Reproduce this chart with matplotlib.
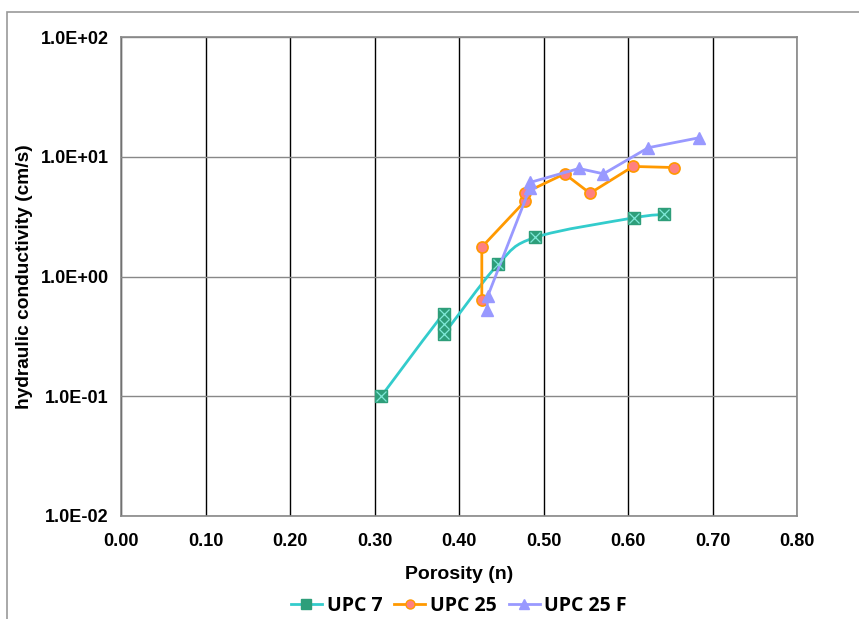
import numpy as np
import matplotlib.pyplot as plt
from matplotlib.path import Path
from matplotlib.patches import PathPatch, Rectangle

# UPC 7
upc7_n = [0.308, 0.382, 0.382, 0.382, 0.446, 0.490, 0.607, 0.643]
upc7_k = [0.10, 0.49, 0.405, 0.334, 1.26, 2.12, 3.09, 3.30]
# UPC 25
upc25_n = [0.427, 0.427, 0.478, 0.478, 0.525, 0.555, 0.606, 0.654]
upc25_k = [0.64, 1.76, 4.25, 5.0, 7.2, 4.96, 8.3, 8.13]
# UPC 25 F
upc25f_n = [0.433, 0.434, 0.484, 0.484, 0.542, 0.571, 0.624, 0.684]
upc25f_k = [0.53, 0.685, 5.5, 6.1, 7.98, 7.2, 11.9, 14.4]

xticks = [0.0, 0.1, 0.2, 0.3, 0.4, 0.5, 0.6, 0.7, 0.8]
yticks = [0.01, 0.1, 1, 10, 100]
ylabels = ['1.0E-02', '1.0E-01', '1.0E+00', '1.0E+01', '1.0E+02']


def smooth_path(xs, ys, tension=1/6):
    # bezier through points, built in (x, log y) space like Excel's smoothed line
    px = np.array(xs, float)
    py = np.log10(np.array(ys, float))
    verts = [(px[0], py[0])]
    codes = [Path.MOVETO]
    n = len(px)
    for i in range(n - 1):
        p0 = np.array([px[max(i - 1, 0)], py[max(i - 1, 0)]])
        p1 = np.array([px[i], py[i]])
        p2 = np.array([px[i + 1], py[i + 1]])
        p3 = np.array([px[min(i + 2, n - 1)], py[min(i + 2, n - 1)]])
        c1 = p1 + (p2 - p0) * tension
        c2 = p2 - (p3 - p1) * tension
        verts += [tuple(c1), tuple(c2), tuple(p2)]
        codes += [Path.CURVE4] * 3
    verts = [(vx, 10 ** vy) for vx, vy in verts]
    return Path(verts, codes)


fig = plt.figure(figsize=(8.59, 6.19), dpi=100)
ax = fig.add_axes([121 / 859, 1 - 516 / 619, 676 / 859, 479 / 619])

ax.set_yscale('log')
ax.set_xlim(0, 0.8)
ax.set_ylim(0.01, 100)

teal = '#33CCCC'
ax.add_patch(PathPatch(smooth_path(upc7_n, upc7_k), fill=False, edgecolor=teal, lw=2, zorder=3))
ax.plot(upc7_n, upc7_k, ls='none', marker='s', ms=8, mfc='#2E9E7A', mec='#2E9E7A', zorder=4)
ax.plot(upc7_n, upc7_k, ls='none', marker='x', ms=7, mew=0.9, color='#7FE8D8', zorder=5)

ax.plot(upc25_n, upc25_k, color='#FF9900', lw=2, marker='o', ms=8,
        mfc='#FF8080', mec='#FF9900', mew=1.2, zorder=4)
ax.plot(upc25f_n, upc25f_k, color='#9999FF', lw=2, marker='^', ms=8.5,
        mfc='#9999FF', mec='#9999FF', zorder=4)

# legend proxies
h1, = ax.plot([], [], color=teal, lw=2, marker='s', ms=6.5, mfc='#2E9E7A', mec='#2E9E7A')
h2, = ax.plot([], [], color='#FF9900', lw=2, marker='o', ms=6.5, mfc='#FF8080', mec='#FF9900')
h3, = ax.plot([], [], color='#9999FF', lw=2, marker='^', ms=7, mfc='#9999FF', mec='#9999FF')

ax.set_xticks(xticks)
ax.set_xticklabels(['%.2f' % v for v in xticks])
ax.set_yticks(yticks)
ax.set_yticklabels(ylabels)
ax.minorticks_off()
ax.tick_params(axis='x', length=0, pad=12)
ax.tick_params(axis='y', length=0, pad=9)
for lab in ax.get_xticklabels() + ax.get_yticklabels():
    lab.set_fontfamily('Liberation Sans')
    lab.set_fontweight('bold')
    lab.set_fontsize(13)

ax.grid(True, axis='x', color='black', lw=1)
ax.grid(True, axis='y', color='#888888', lw=1)
for s in ax.spines.values():
    s.set_color('#888888')
    s.set_linewidth(1.2)

ax.set_xlabel('Porosity (n)', fontsize=14, fontweight='bold', family='Liberation Sans', labelpad=12)
ax.set_ylabel('hydraulic conductivity (cm/s)', fontsize=13.8, fontweight='bold',
              family='Liberation Sans', labelpad=5)

fig.legend([h1, h2, h3], ['UPC 7', 'UPC 25', 'UPC 25 F'], loc='center',
           bbox_to_anchor=(459 / 859, 1 - 606 / 619), ncol=3, frameon=False,
           prop={'family': 'Open Sans', 'weight': 'bold', 'size': 14},
           handlelength=1.6, columnspacing=0.6, handletextpad=0.25,
           borderaxespad=0, borderpad=0)

fig.add_artist(Rectangle((7 / 859, -0.1), 1.2, 1 - 11.5 / 619 + 0.1, transform=fig.transFigure,
                         fill=False, edgecolor='#999999', lw=1.2))

fig.savefig('out.png', dpi=100)
